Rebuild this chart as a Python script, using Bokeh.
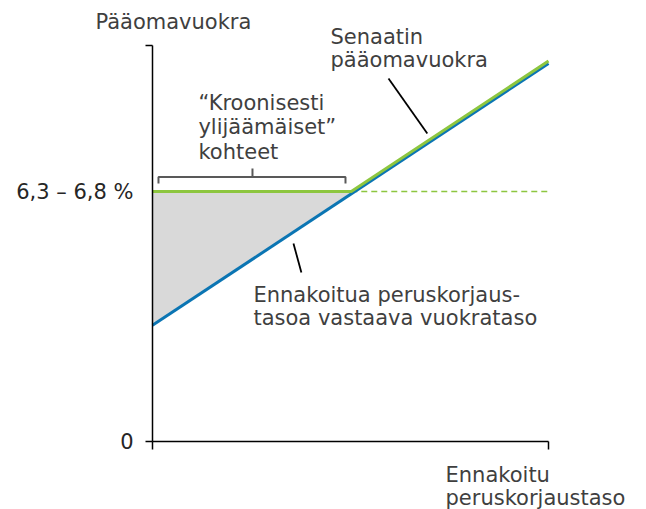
from bokeh.plotting import figure
from bokeh.models import Range1d, FixedTicker
from bokeh.core.properties import value
from bokeh.embed import file_html
from bokeh.resources import INLINE

# ---- data (x: predicted renovation level, 0..1; y: capital rent) ----
level = 6.5
level_label = "6,3 – 6,8 %"
y_top = 10.3
blue_x = [0.0, 1.0]
blue_y = [3.02, 9.83]
green_x = [0.0, 0.502, 1.0]
green_y = [6.5, 6.5, 9.89]
fill_x = [0.0, 0.511, 0.0]
fill_y = [6.5, 6.5, 3.02]
dash_x = [0.502, 1.0]
dash_y = [6.5, 6.5]

FONT = value("DejaVu Sans")
TXT = "#3f3f3f"
FS = "21px"

p = figure(width=646, height=509, output_backend="svg", toolbar_location=None,
           x_range=Range1d(-0.3838, 1.2475), y_range=Range1d(-1.768, 11.466),
           min_border=0)
p.outline_line_color = None
p.grid.visible = False

# axes
yax = p.yaxis[0]
yax.fixed_location = 0
yax.bounds = (0, y_top)
yax.ticker = FixedTicker(ticks=[0, level], minor_ticks=[0, y_top])
yax.major_label_overrides = {0: "0", level: level_label}
yax.major_tick_out = 0
yax.major_tick_in = 0
yax.minor_tick_out = 7
yax.minor_tick_in = 0
yax.minor_tick_line_color = "black"
yax.minor_tick_line_width = 1.5
yax.axis_line_width = 1.5
yax.major_label_standoff = 12
yax.major_label_text_font = "DejaVu Sans"
yax.major_label_text_font_size = FS
yax.major_label_text_color = "#262626"

xax = p.xaxis[0]
xax.fixed_location = 0
xax.bounds = (0, 1)
xax.ticker = FixedTicker(ticks=[], minor_ticks=[0, 1])
xax.major_tick_out = 0
xax.major_tick_in = 0
xax.minor_tick_out = 8
xax.minor_tick_in = 0
xax.minor_tick_line_color = "black"
xax.minor_tick_line_width = 1.5
xax.axis_line_width = 1.5

# shaded area, lines
p.patch(fill_x, fill_y, fill_color="#d9d9d9", line_color=None)
p.line(dash_x, dash_y, line_color="#8dc63f", line_width=1.3, line_dash="6 4")
p.line(blue_x, blue_y, line_color="#0b75b3", line_width=3)
p.line(green_x, green_y, line_color="#8dc63f", line_width=3)

# bracket
p.line([0.01515, 0.01515, 0.4874, 0.4874], [6.708, 6.877, 6.877, 6.708],
       line_color="#595959", line_width=2)
p.line([0.2525, 0.2525], [6.877, 7.098], line_color="#595959", line_width=2)

# pointer lines
p.segment(x0=[0.596, 0.356], y0=[9.438, 5.148], x1=[0.694, 0.376], y1=[8.008, 4.394],
          line_color="black", line_width=1.8)

# texts
tx = [-0.144, 0.4495, 0.4495, 0.116, 0.116, 0.116, 0.255, 0.255, 0.740, 0.740]
ty = [10.92, 10.53, 9.91, 8.79, 8.17, 7.54, 3.82, 3.20, -0.86, -1.48]
tt = ["Pääomavuokra", "Senaatin", "pääomavuokra",
      "“Kroonisesti", "ylijäämäiset”", "kohteet",
      "Ennakoitua peruskorjaus-", "tasoa vastaava vuokrataso",
      "Ennakoitu", "peruskorjaustaso"]
p.text(x=tx, y=ty, text=tt, text_font=FONT, text_font_size=FS,
       text_color=TXT, text_baseline="alphabetic", text_align="left")

open("out.html", "w").write(file_html(p, INLINE))
